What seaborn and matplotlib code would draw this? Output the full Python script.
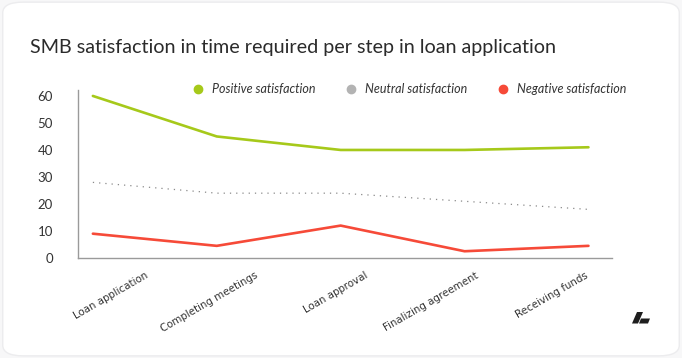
import matplotlib
matplotlib.use("Agg")
import matplotlib.pyplot as plt
import seaborn as sns
import pandas as pd
from matplotlib.patches import FancyBboxPatch, Polygon
from matplotlib.lines import Line2D

steps = ["Loan application", "Completing meetings", "Loan approval",
         "Finalizing agreement", "Receiving funds"]
positive = [60, 45, 40, 40, 41]
neutral = [28, 24, 24, 21, 18]
negative = [9, 4.5, 12, 2.5, 4.5]
series_names = ["Positive satisfaction", "Neutral satisfaction", "Negative satisfaction"]
colors = ["#a6c91a", "#b3b3b3", "#f64a38"]
yticks = [0, 10, 20, 30, 40, 50, 60]

df = pd.DataFrame({
    "step": steps * 3,
    "idx": list(range(len(steps))) * 3,
    "value": positive + neutral + negative,
    "series": [series_names[0]] * 5 + [series_names[1]] * 5 + [series_names[2]] * 5,
})

sns.set_theme(style="white")
plt.rcParams['font.family'] = ['Lato', 'DejaVu Sans']

fig = plt.figure(figsize=(6.82, 3.58), dpi=100)
fig.patch.set_facecolor("#f7f7f8")
card = FancyBboxPatch((0.004, 0.006), 0.992, 0.988,
                      boxstyle="round,pad=0,rounding_size=0.03",
                      transform=fig.transFigure, facecolor="white",
                      edgecolor="#ececee", linewidth=1, zorder=-10)
fig.add_artist(card)

ax = fig.add_axes([78 / 682, 1 - 258 / 358, (612 - 78) / 682, (258 - 90) / 358])
ax.set_zorder(5)
ax.set_facecolor("none")

for name, col in zip(series_names, colors):
    sub = df[df["series"] == name]
    if name.startswith("Neutral"):
        sns.lineplot(data=sub, x="idx", y="value", ax=ax, color="#8a8a8a",
                     linewidth=0.9, dashes=False, legend=False)
        ax.lines[-1].set_dashes((1, 4))
    else:
        sns.lineplot(data=sub, x="idx", y="value", ax=ax, color=col,
                     linewidth=1.9, legend=False)

ax.set_xlim(-0.12, 4.19)
ax.set_ylim(0, 62.2)
ax.set_yticks(yticks)
ax.set_yticklabels([str(t) for t in yticks], fontsize=9.5, color="#333333")
ax.set_xticks([])
ax.tick_params(axis="both", length=0)
ax.tick_params(axis="y", pad=18)
ax.set_xlabel("")
ax.set_ylabel("")
for s in ["top", "right"]:
    ax.spines[s].set_visible(False)
for s in ["left", "bottom"]:
    ax.spines[s].set_color("#9a9a9a")
    ax.spines[s].set_linewidth(1)

# category labels (placed on their own evenly spaced band, as in the reference)
ax2 = ax.twiny()
ax2.set_xlim(-0.609, 4.246)
ax2.xaxis.set_ticks_position("bottom")
ax2.xaxis.set_label_position("bottom")
ax2.set_xticks(range(len(steps)))
ax2.set_xticklabels(steps, rotation=30, ha="right", va="top", rotation_mode="anchor",
                    fontsize=7.4, color="#333333", family="DejaVu Sans")
ax2.tick_params(axis="x", length=0, pad=9)
for s in ax2.spines.values():
    s.set_visible(False)

fig.text(30 / 682, 1 - 47 / 358, "SMB satisfaction in time required per step in loan application",
         fontsize=14.2, color="#2b2b2b", va="center", ha="left")

handles = [Line2D([0], [0], marker="o", linestyle="none", markersize=6,
                  markerfacecolor=c, markeredgecolor=c) for c in colors]
fig.legend(handles, series_names, loc="center", ncol=3,
           bbox_to_anchor=(406 / 682, 1 - 89 / 358), frameon=False,
           prop={"style": "italic", "size": 9.0}, handletextpad=0.1,
           columnspacing=1.85, labelcolor="#333333")

# logo mark
def P(x, y):
    return (x / 682, 1 - y / 358)

bar = Polygon([P(632, 323.5), P(637, 312), P(643, 312), P(638, 323.5)],
              closed=True, transform=fig.transFigure, facecolor="#1e1e1e", edgecolor="none")
base = Polygon([P(639, 323.5), P(641, 318.5), P(650, 318.5), P(648, 323.5)],
               closed=True, transform=fig.transFigure, facecolor="#1e1e1e", edgecolor="none")
fig.add_artist(bar)
fig.add_artist(base)

fig.savefig("out.png", dpi=100, facecolor=fig.get_facecolor())
